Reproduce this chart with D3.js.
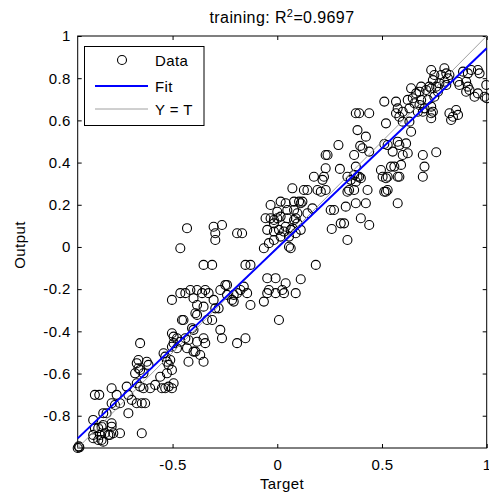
<!DOCTYPE html>
<html>
<head>
<meta charset="utf-8">
<script src="https://cdn.jsdelivr.net/npm/d3@7"></script>
<style>
  body { margin: 0; background: #fff; }
  text { font-family: "Liberation Sans", Arial, sans-serif; fill: #000; letter-spacing: 0.4px; }
</style>
</head>
<body>
<svg id="chart" width="489" height="497"></svg>
<script>
// target / output pairs
var points = [
  [0.798,0.847],[0.807,0.823],[0.783,0.815],[0.815,0.799],[0.798,0.783],[0.774,0.776],[0.807,0.768],[0.822,0.815],
  [0.735,0.839],[0.750,0.815],[0.743,0.791],[0.726,0.760],[0.759,0.760],[0.767,0.736],
  [0.887,0.831],[0.910,0.823],[0.926,0.839],[0.958,0.839],[0.966,0.823],[0.902,0.783],[0.910,0.760],[0.902,0.736],
  [0.918,0.744],[0.958,0.728],[0.998,0.768],[1.000,0.705],[0.863,0.783],[0.870,0.768],[0.942,0.712],[0.990,0.712],
  [0.639,0.752],[0.687,0.760],[0.679,0.736],[0.711,0.744],[0.735,0.752],[0.663,0.728],[0.647,0.705],[0.623,0.697],
  [0.687,0.697],[0.719,0.697],[0.750,0.712],[0.655,0.681],[0.679,0.673],[0.703,0.657],[0.671,0.641],[0.695,0.641],
  [0.735,0.665],[0.743,0.641],[0.631,0.657],[0.599,0.641],[0.575,0.657],[0.567,0.634],[0.583,0.617],
  [0.511,0.689],[0.567,0.689],[0.375,0.634],[0.391,0.634],[0.439,0.634],[0.519,0.586],[0.599,0.594],[0.631,0.594],
  [0.383,0.554],[0.423,0.523],[0.639,0.546],[0.822,0.634],[0.839,0.617],[0.830,0.602],[0.854,0.649],[0.863,0.626],
  [0.735,0.610],[0.735,0.634],
  [0.292,0.483],[0.396,0.479],[0.439,0.452],[0.511,0.488],[0.527,0.483],[0.583,0.483],[0.615,0.491],[0.599,0.436],
  [0.623,0.444],[0.695,0.436],[0.759,0.449],[0.231,0.436],[0.367,0.436],[0.407,0.468],[0.575,0.499],[0.551,0.452],
  [0.299,0.370],[0.175,0.333],[0.223,0.333],[0.216,0.318],[0.192,0.270],[0.231,0.270],[0.367,0.341],[0.383,0.333],
  [0.399,0.326],[0.351,0.318],[0.343,0.270],[0.367,0.270],[0.431,0.270],[0.495,0.365],[0.503,0.333],[0.519,0.326],
  [0.527,0.270],[0.511,0.262],[0.575,0.333],[0.591,0.389],[0.559,0.381],[0.695,0.333],[0.703,0.381],[0.575,0.207],
  [0.423,0.207],[0.375,0.207],[0.327,0.191],[0.255,0.175],[0.271,0.175],[0.399,0.136],[0.439,0.104],[0.319,0.112],
  [0.335,0.033],[0.260,0.085],
  [0.072,0.278],[0.127,0.270],[0.144,0.270],[0.120,0.215],[0.080,0.215],[0.016,0.215],[0.040,0.207],[0.048,0.175],
  [0.080,0.175],[-0.032,0.199],[0.000,0.167],[0.096,0.160],[0.144,0.160],[0.168,0.183],[-0.056,0.136],[-0.032,0.136],
  [0.000,0.136],[0.048,0.136],[0.088,0.136],[-0.016,0.112],[-0.048,0.081],[-0.016,0.073],[0.008,0.081],[0.040,0.096],
  [0.064,0.081],[0.112,0.081],[0.016,0.049],[-0.016,0.033],[-0.064,-0.006],[0.064,-0.006],[-0.040,0.018],[0.096,0.112],
  [-0.463,-0.006],[-0.431,0.089],[-0.304,0.096],[-0.264,0.104],[-0.296,0.065],[-0.296,0.033],[-0.192,0.065],[-0.168,0.065],
  [0.231,0.373],[0.240,0.436],[0.335,0.333],[0.391,0.333],[0.375,0.309],[0.335,0.262],[0.375,0.381],[0.527,0.333],
  [0.543,0.381],[0.583,0.333],[0.519,0.262],[0.303,0.112],[0.208,0.262],[0.104,0.215],[0.112,0.207],[-0.016,0.128],
  [0.016,0.144],[0.080,0.128],[0.032,0.073],[0.072,0.089],[0.056,0.049],[0.088,0.065],[0.056,0.001],
  [-0.352,-0.085],[-0.311,-0.085],[-0.152,-0.085],[-0.128,-0.085],[0.184,-0.085],[-0.048,-0.148],[-0.008,-0.148],
  [0.040,-0.172],[0.112,-0.153],[-0.240,-0.180],[-0.160,-0.188],
  [-0.463,-0.219],[-0.439,-0.219],[-0.415,-0.204],[-0.383,-0.204],[-0.359,-0.219],[-0.344,-0.204],[-0.328,-0.219],
  [-0.272,-0.204],[-0.248,-0.180],[-0.240,-0.227],[-0.208,-0.227],[-0.192,-0.219],[-0.176,-0.204],[-0.144,-0.219],
  [-0.216,-0.251],[-0.208,-0.259],[-0.128,-0.275],[-0.064,-0.259],[-0.048,-0.219],[-0.040,-0.204],[-0.008,-0.219],
  [0.024,-0.204],[0.032,-0.219],[0.088,-0.219],[-0.503,-0.251],[-0.400,-0.243],[-0.383,-0.275],[-0.352,-0.283],
  [-0.304,-0.251],[-0.296,-0.291],[-0.335,-0.346],[-0.311,-0.346],[-0.280,-0.291],[-0.391,-0.314],[-0.383,-0.322],
  [-0.455,-0.346],[-0.448,-0.346],[-0.407,-0.385],[-0.400,-0.393],[-0.272,-0.393],[-0.264,-0.433],[-0.192,-0.456],
  [-0.152,-0.433],[0.008,-0.346],
  [-0.503,-0.409],[-0.495,-0.425],[-0.479,-0.433],[-0.463,-0.449],[-0.439,-0.433],[-0.424,-0.441],[-0.431,-0.480],
  [-0.383,-0.449],[-0.352,-0.433],[-0.344,-0.456],[-0.391,-0.496],[-0.368,-0.512],[-0.352,-0.544],[-0.424,-0.544],
  [-0.400,-0.496],[-0.495,-0.456],[-0.503,-0.473],[-0.479,-0.480],
  [-0.655,-0.456],[-0.663,-0.536],[-0.671,-0.551],[-0.663,-0.575],[-0.655,-0.583],[-0.623,-0.544],[-0.615,-0.559],
  [-0.639,-0.599],[-0.679,-0.599],[-0.671,-0.646],[-0.655,-0.662],[-0.639,-0.670],[-0.607,-0.670],[-0.583,-0.654],
  [-0.647,-0.741],[-0.631,-0.741],[-0.647,-0.883],[-0.543,-0.504],[-0.535,-0.520],[-0.527,-0.544],[-0.519,-0.559],
  [-0.511,-0.536],[-0.503,-0.583],[-0.495,-0.646],[-0.519,-0.662],[-0.535,-0.670],[-0.551,-0.670],[-0.503,-0.670],
  [-0.559,-0.615],[-0.527,-0.599],
  [-0.719,-0.662],[-0.711,-0.701],[-0.695,-0.725],[-0.711,-0.788],[-0.871,-0.701],[-0.850,-0.701],[-0.791,-0.670],
  [-0.767,-0.701],[-0.791,-0.741],[-0.751,-0.741],[-0.775,-0.749],[-0.879,-0.820],[-0.871,-0.859],[-0.879,-0.891],
  [-0.855,-0.859],[-0.839,-0.852],[-0.847,-0.891],[-0.839,-0.915],[-0.823,-0.883],[-0.807,-0.891],[-0.791,-0.836],
  [-0.791,-0.852],[-0.799,-0.891],[-0.751,-0.883],[-0.815,-0.788],[-0.831,-0.788],[-0.831,-0.844],[-0.783,-0.883],
  [-0.879,-0.907],[-0.855,-0.915],[-0.831,-0.923],[-0.671,-0.741],
  [-0.953,-0.953],[-0.948,-0.945],[-0.945,-0.950]
];

var fitSlope = 0.947, fitIntercept = -0.005;
var axisMin = -0.953, axisMax = 1;
var xTicks = [-0.5, 0, 0.5, 1];
var yTicks = [-0.8, -0.6, -0.4, -0.2, 0, 0.2, 0.4, 0.6, 0.8, 1];
var legendLabels = ["Data", "Fit", "Y = T"];
var r2 = "0.9697";

var svg = d3.select("#chart");
var plotL = 77.7, plotR = 486.7, plotT = 36, plotB = 448;
var fs = 15;

var x = d3.scaleLinear().domain([axisMin, axisMax]).range([plotL, plotR]);
var y = d3.scaleLinear().domain([axisMin, axisMax]).range([plotB, plotT]);

var tickFmt = function(d) { return String(d); };

// axes: ticks inward on all four sides, like matlab
var gx = svg.append("g").attr("transform", "translate(0," + plotB + ")")
  .call(d3.axisBottom(x).tickValues(xTicks).tickSize(-4).tickPadding(11).tickFormat(tickFmt));
var gxt = svg.append("g").attr("transform", "translate(0," + plotT + ")")
  .call(d3.axisTop(x).tickValues(xTicks).tickSize(-4).tickFormat(""));
var gy = svg.append("g").attr("transform", "translate(" + plotL + ",0)")
  .call(d3.axisLeft(y).tickValues(yTicks).tickSize(-4).tickPadding(7).tickFormat(tickFmt));
var gyr = svg.append("g").attr("transform", "translate(" + plotR + ",0)")
  .call(d3.axisRight(y).tickValues(yTicks).tickSize(-4).tickFormat(""));

[gx, gxt, gy, gyr].forEach(function(g) {
  g.select(".domain").remove();
  g.selectAll(".tick line").attr("stroke", "#000").attr("stroke-width", 1);
  g.selectAll(".tick text").attr("font-size", fs).attr("fill", "#000")
    .attr("font-family", "Liberation Sans, Arial, sans-serif");
});

svg.append("rect")
  .attr("x", plotL).attr("y", plotT)
  .attr("width", plotR - plotL).attr("height", plotB - plotT)
  .attr("fill", "none").attr("stroke", "#000").attr("stroke-width", 1);

// data circles
svg.append("g").selectAll("circle")
  .data(points)
  .enter().append("circle")
  .attr("cx", function(d) { return x(d[0]); })
  .attr("cy", function(d) { return y(d[1]); })
  .attr("r", 4.5)
  .attr("fill", "none")
  .attr("stroke", "#000")
  .attr("stroke-width", 1.1);

// Y = T
svg.append("line")
  .attr("x1", x(axisMin)).attr("y1", y(axisMin))
  .attr("x2", x(axisMax)).attr("y2", y(axisMax))
  .attr("stroke", "#a0a0a0").attr("stroke-width", 1);

// fit
svg.append("line")
  .attr("x1", x(axisMin)).attr("y1", y(fitSlope * axisMin + fitIntercept))
  .attr("x2", x(axisMax)).attr("y2", y(fitSlope * axisMax + fitIntercept))
  .attr("stroke", "#0000ff").attr("stroke-width", 2);

// legend
var lg = svg.append("g");
lg.append("rect").attr("x", 84.5).attr("y", 46.5).attr("width", 119.5).attr("height", 79)
  .attr("fill", "#fff").attr("stroke", "#000").attr("stroke-width", 1);
var rowY = [60, 86, 109];
lg.append("circle").attr("cx", 122).attr("cy", rowY[0]).attr("r", 4.5)
  .attr("fill", "none").attr("stroke", "#000").attr("stroke-width", 1.1);
lg.append("line").attr("x1", 95).attr("x2", 148).attr("y1", rowY[1]).attr("y2", rowY[1])
  .attr("stroke", "#0000ff").attr("stroke-width", 2);
lg.append("line").attr("x1", 95).attr("x2", 148).attr("y1", rowY[2]).attr("y2", rowY[2])
  .attr("stroke", "#a0a0a0").attr("stroke-width", 1);
lg.selectAll("text.lab").data(legendLabels).enter().append("text")
  .attr("class", "lab")
  .attr("x", 155).attr("y", function(d, i) { return rowY[i] + 5.5; })
  .attr("font-size", fs).text(function(d) { return d; });

// title and axis labels
var title = svg.append("text").attr("x", 282).attr("y", 22.5)
  .attr("text-anchor", "middle").attr("font-size", 16);
title.append("tspan").text("training: R");
title.append("tspan").attr("font-size", 11).attr("dy", -6).text("2");
title.append("tspan").attr("dy", 6).text("=" + r2);

svg.append("text").attr("x", 282).attr("y", 489)
  .attr("text-anchor", "middle").attr("font-size", fs).text("Target");
svg.append("text").attr("transform", "translate(25,245) rotate(-90)")
  .attr("text-anchor", "middle").attr("font-size", fs).text("Output");
</script>
</body>
</html>
